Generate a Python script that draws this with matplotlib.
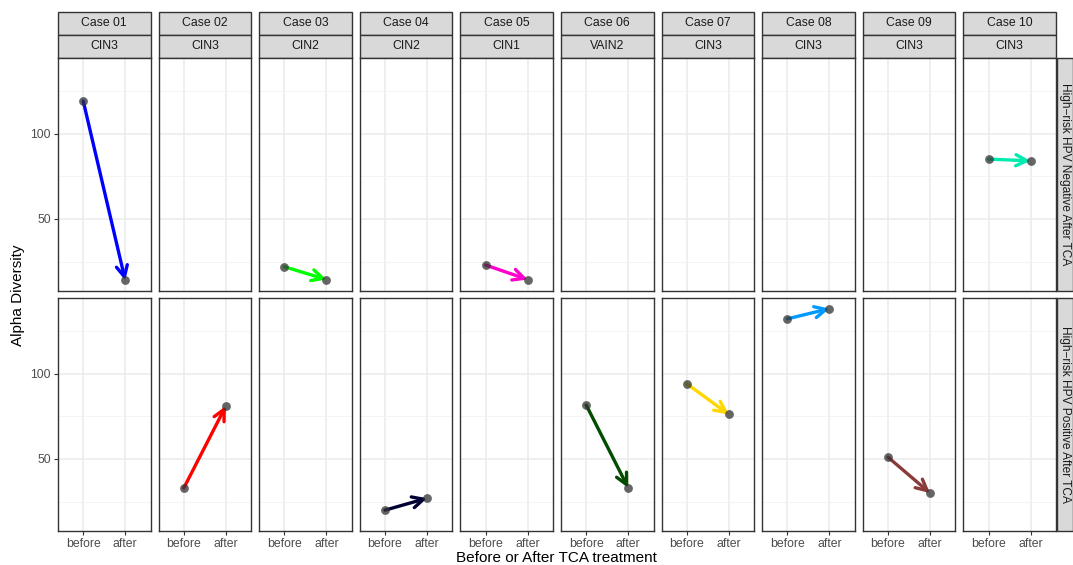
import matplotlib
matplotlib.use("Agg")
import matplotlib.pyplot as plt
from matplotlib.patches import Rectangle

plt.rcParams["font.family"] = ["Liberation Sans", "DejaVu Sans"]

cases = ["Case 01", "Case 02", "Case 03", "Case 04", "Case 05",
         "Case 06", "Case 07", "Case 08", "Case 09", "Case 10"]
diagnosis = ["CIN3", "CIN3", "CIN2", "CIN2", "CIN1",
             "VAIN2", "CIN3", "CIN3", "CIN3", "CIN3"]
# 0 = negative after TCA (top row), 1 = positive after TCA (bottom row)
hpv_row = [0, 1, 0, 1, 0, 1, 1, 1, 1, 0]
row_labels = ["High\u2212risk HPV Negative After TCA",
              "High\u2212risk HPV Positive After TCA"]
before = [119, 33, 22, 20, 23, 81.5, 94, 132, 51, 85]
after = [14, 81, 14.5, 27, 14.5, 33, 76, 138, 30, 84]
colors = ["#0000FF", "#FF0000", "#00FF00", "#000033", "#FF00CC",
          "#004D00", "#FFD700", "#0099FF", "#8B3A3A", "#00EBB0"]
x_labels = ["before", "after"]

W, H = 1073, 565
fig = plt.figure(figsize=(W / 100, H / 100), dpi=100)


def fax(x0, y0, x1, y1):
    return fig.add_axes([x0 / W, 1 - y1 / H, (x1 - x0) / W, (y1 - y0) / H])


allv = before + after
lo, hi = min(allv), max(allv)
pad = 0.05 * (hi - lo)
ylim = (lo - pad, hi + pad)

col_left = [58 + i * 100.6 for i in range(10)]
pw = 92.5
rows_y = [(58, 291), (298, 531)]
border = "#333333"
strip_fill = "#D9D9D9"


def strip(x0, y0, x1, y1, text, rot=0, size=8.8):
    a = fax(x0, y0, x1, y1)
    a.set_xlim(0, 1)
    a.set_ylim(0, 1)
    a.axis("off")
    a.add_patch(Rectangle((0, 0), 1, 1, facecolor=strip_fill, edgecolor=border,
                          linewidth=1.0, transform=a.transAxes, clip_on=False))
    a.text(0.5, 0.5, text, ha="center", va="center", rotation=rot,
           fontsize=size, color="#1A1A1A")


for c in range(10):
    x0 = col_left[c]
    strip(x0, 12, x0 + pw, 34.5, cases[c])
    strip(x0, 34.5, x0 + pw, 57.5, diagnosis[c])
    for r in range(2):
        y0, y1 = rows_y[r]
        ax = fax(x0, y0, x0 + pw, y1)
        ax.set_xlim(0.4, 2.6)
        ax.set_ylim(*ylim)
        ax.set_xticks([1, 2])
        ax.set_yticks([50, 100])
        ax.set_yticks([25, 75, 125], minor=True)
        ax.grid(which="major", color="#EBEBEB", linewidth=1.1)
        ax.grid(which="minor", axis="y", color="#F2F2F2", linewidth=0.6)
        ax.set_axisbelow(True)
        for s in ax.spines.values():
            s.set_color(border)
            s.set_linewidth(1.0)
        ax.tick_params(which="minor", length=0)
        ax.tick_params(which="major", length=3, color=border, width=0.8,
                       labelcolor="#4D4D4D", labelsize=8.8, pad=2)
        if c == 0:
            ax.set_yticklabels(["50", "100"])
        else:
            ax.tick_params(axis="y", length=0, labelleft=False)
        if r == 1:
            ax.set_xticklabels(x_labels)
        else:
            ax.tick_params(axis="x", length=0, labelbottom=False)
        if hpv_row[c] == r:
            ax.annotate("", xy=(2, after[c]), xytext=(1, before[c]),
                        arrowprops=dict(arrowstyle="->,head_length=0.8,head_width=0.4",
                                        color=colors[c], lw=2.4,
                                        shrinkA=0, shrinkB=0))
            ax.scatter([1, 2], [before[c], after[c]], s=40, color="#333333",
                       alpha=0.75, zorder=3, linewidths=0)

for r in range(2):
    y0, y1 = rows_y[r]
    strip(1057, y0, 1073, y1, row_labels[r], rot=-90, size=8.6)

fig.text(556 / W, 1 - 558 / H, "Before or After TCA treatment", ha="center",
         va="center", fontsize=11, color="black")
fig.text(18 / W, 1 - 295 / H, "Alpha Diversity", ha="center", va="center",
         rotation=90, fontsize=11, color="black")

fig.savefig("out.png", dpi=100)
